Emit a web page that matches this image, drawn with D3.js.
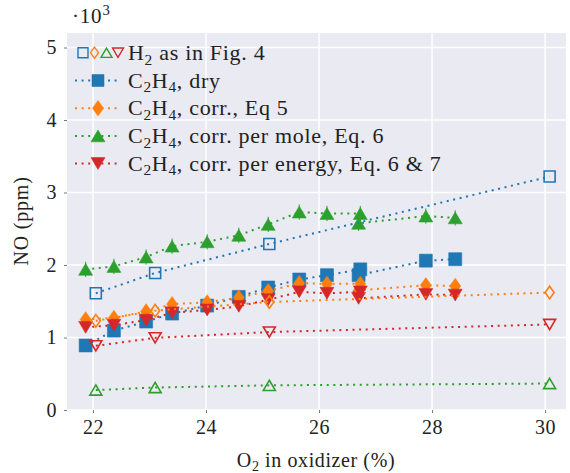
<!DOCTYPE html>
<html>
<head>
<meta charset="utf-8">
<title>NO vs O2</title>
<script src="https://cdn.jsdelivr.net/npm/d3@7"></script>
<style>
  body { margin: 0; background: #fff; }
  text { font-family: "Liberation Serif", "Times New Roman", serif; fill: #222; }
</style>
</head>
<body>
<div id="chart"></div>
<script>

// H2 reference points (open markers)
var xH2 = [22.05, 23.1, 25.12, 30.08];
var h2Dry = [1610, 1890, 2290, 3220];
var h2Corr = [1230, 1370, 1490, 1620];
var h2Mole = [275, 310, 340, 365];
var h2Energy = [885, 995, 1075, 1180];

// C2H4 points (filled markers)
var xC2H4 = [21.87, 22.37, 22.94, 23.40, 24.02, 24.58, 25.10, 25.65, 26.14, 26.73, 26.70, 27.89, 28.41];
var c2Dry = [890, 1095, 1220, 1330, 1440, 1560, 1690, 1800, 1860, 1940, 1860, 2060, 2080];
var c2Corr = [1250, 1270, 1360, 1460, 1485, 1550, 1640, 1750, 1740, 1740, 1650, 1720, 1710];
var c2Mole = [1940, 1980, 2110, 2260, 2320, 2410, 2560, 2730, 2710, 2710, 2575, 2675, 2650];
var c2Energy = [1140, 1170, 1240, 1340, 1380, 1430, 1520, 1630, 1610, 1630, 1540, 1595, 1585];

// error bars (ppm)
var errDry = [60, 60, 60, 60, 60, 60, 60, 60, 60, 60, 60, 60, 60];
var errCorr = [80, 80, 80, 80, 80, 80, 80, 80, 80, 80, 80, 80, 80];
var errMole = [105, 105, 105, 105, 105, 105, 105, 105, 105, 105, 105, 105, 105];
var errEnergy = [70, 70, 70, 70, 70, 70, 70, 70, 70, 70, 70, 70, 70];

var xTicks = [22, 24, 26, 28, 30];
var yTicks = [0, 1000, 2000, 3000, 4000, 5000];

var blue = "#1f77b4", orange = "#ff7f0e", green = "#2ca02c", red = "#d62728";

var W = 570, H = 473;
var pLeft = 67, pRight = 566, pTop = 33, pBottom = 410;

var svg = d3.select("#chart").append("svg")
    .attr("width", W).attr("height", H);

var x = d3.scaleLinear().domain([21.54, 30.37]).range([pLeft, pRight]);
var y = d3.scaleLinear().domain([0, 5200]).range([pBottom, pTop]);

// background
svg.append("rect")
    .attr("x", pLeft).attr("y", pTop)
    .attr("width", pRight - pLeft).attr("height", pBottom - pTop)
    .attr("fill", "#eaeaf2");

// grid
svg.append("g").selectAll("line").data(xTicks).enter().append("line")
    .attr("x1", function(d) { return x(d); }).attr("x2", function(d) { return x(d); })
    .attr("y1", pTop).attr("y2", pBottom)
    .attr("stroke", "#fff").attr("stroke-width", 1.5);
svg.append("g").selectAll("line").data(yTicks).enter().append("line")
    .attr("y1", function(d) { return y(d); }).attr("y2", function(d) { return y(d); })
    .attr("x1", pLeft).attr("x2", pRight)
    .attr("stroke", "#fff").attr("stroke-width", 1.5);

// axes
var xAxis = svg.append("g")
    .attr("transform", "translate(0," + pBottom + ")")
    .call(d3.axisBottom(x).tickValues(xTicks).tickSize(3).tickPadding(7).tickFormat(d3.format("d")));
var yAxis = svg.append("g")
    .attr("transform", "translate(" + pLeft + ",0)")
    .call(d3.axisLeft(y).tickValues(yTicks).tickSize(3).tickPadding(7).tickFormat(function(d) { return d / 1000; }));
[xAxis, yAxis].forEach(function(a) {
  a.select(".domain").remove();
  a.selectAll(".tick line").attr("stroke", "#555").attr("stroke-width", 0.8);
  a.selectAll(".tick text").attr("font-family", "Liberation Serif").attr("font-size", 20)
      .attr("letter-spacing", 0.5).attr("fill", "#222");
});

// marker paths
function markerPath(kind, s) {
  var h = s / 2;
  if (kind === "square") return "M" + (-h) + "," + (-h) + "h" + s + "v" + s + "h" + (-s) + "Z";
  if (kind === "diamond") return "M0," + (-h * 1.4) + "L" + h + ",0L0," + (h * 1.4) + "L" + (-h) + ",0Z";
  if (kind === "up") return "M0," + (-h * 0.85) + "L" + h + "," + (h * 0.85) + "L" + (-h) + "," + (h * 0.85) + "Z";
  if (kind === "down") return "M0," + (h * 0.85) + "L" + h + "," + (-h * 0.85) + "L" + (-h) + "," + (-h * 0.85) + "Z";
}

var line = d3.line()
    .x(function(d) { return x(d[0]); })
    .y(function(d) { return y(d[1]); });

function drawSeries(xs, ys, errs, color, kind, size, filled) {
  var pts = xs.map(function(v, i) { return [v, ys[i]]; });
  var g = svg.append("g");
  g.append("path").attr("d", line(pts))
      .attr("fill", "none").attr("stroke", color)
      .attr("stroke-width", 2).attr("stroke-dasharray", "2,4.6");
  if (errs) {
    g.selectAll(".err").data(pts).enter().append("line")
        .attr("x1", function(d) { return x(d[0]); }).attr("x2", function(d) { return x(d[0]); })
        .attr("y1", function(d, i) { return y(d[1] - errs[i]); })
        .attr("y2", function(d, i) { return y(d[1] + errs[i]); })
        .attr("stroke", color).attr("stroke-width", 1);
  }
  g.selectAll(".mk").data(pts).enter().append("path")
      .attr("transform", function(d) { return "translate(" + x(d[0]) + "," + y(d[1]) + ")"; })
      .attr("d", markerPath(kind, size))
      .attr("fill", filled ? color : "none")
      .attr("stroke", color)
      .attr("stroke-opacity", filled ? 0.55 : 1)
      .attr("stroke-width", filled ? 1 : 1.6);
}

drawSeries(xC2H4, c2Dry, errDry, blue, "square", 13, true);
drawSeries(xC2H4, c2Corr, errCorr, orange, "diamond", 11, true);
drawSeries(xC2H4, c2Mole, errMole, green, "up", 14, true);
drawSeries(xC2H4, c2Energy, errEnergy, red, "down", 14, true);

drawSeries(xH2, h2Dry, null, blue, "square", 11, false);
drawSeries(xH2, h2Corr, null, orange, "diamond", 9, false);
drawSeries(xH2, h2Mole, null, green, "up", 12, false);
drawSeries(xH2, h2Energy, null, red, "down", 12, false);

// text helper with sub/superscript
function richText(sel, parts, size) {
  parts.forEach(function(p) {
    var t = sel.append("tspan").text(p[0]);
    if (p[1] === "sub") t.attr("font-size", size * 0.7).attr("dy", size * 0.22);
    else if (p[1] === "sup") t.attr("font-size", size * 0.7).attr("dy", -size * 0.4);
    else if (p[1] === "back") t.attr("dy", -size * 0.22);
  });
}

// legend
var legFs = 22;
var rowY = [52.7, 80.5, 108.2, 135.9, 163.5];
var legLabels = [
  [["H"], ["2", "sub"], [" as in Fig. 4", "back"]],
  [["C"], ["2", "sub"], ["H", "back"], ["4", "sub"], [", dry", "back"]],
  [["C"], ["2", "sub"], ["H", "back"], ["4", "sub"], [", corr., Eq 5", "back"]],
  [["C"], ["2", "sub"], ["H", "back"], ["4", "sub"], [", corr. per mole, Eq. 6", "back"]],
  [["C"], ["2", "sub"], ["H", "back"], ["4", "sub"], [", corr. per energy, Eq. 6 & 7", "back"]]
];
var legColors = [null, blue, orange, green, red];
var legKinds = [null, "square", "diamond", "up", "down"];

var leg = svg.append("g");
// first row: four open markers
[["square", blue, 10, 83], ["diamond", orange, 8, 94.5], ["up", green, 11, 106.5], ["down", red, 11, 118]].forEach(function(m) {
  leg.append("path")
      .attr("transform", "translate(" + m[3] + "," + rowY[0] + ")")
      .attr("d", markerPath(m[0], m[2]))
      .attr("fill", "none").attr("stroke", m[1]).attr("stroke-width", 1.4);
});
for (var i = 1; i < 5; i++) {
  leg.append("line")
      .attr("x1", 75).attr("x2", 121).attr("y1", rowY[i]).attr("y2", rowY[i])
      .attr("stroke", legColors[i]).attr("stroke-width", 2).attr("stroke-dasharray", "2,4.6");
  leg.append("path")
      .attr("transform", "translate(98," + rowY[i] + ")")
      .attr("d", markerPath(legKinds[i], legKinds[i] === "diamond" ? 11 : (legKinds[i] === "square" ? 12 : 14)))
      .attr("fill", legColors[i]).attr("stroke", legColors[i]).attr("stroke-opacity", 0.55).attr("stroke-width", 1);
}
legLabels.forEach(function(parts, i) {
  var t = leg.append("text").attr("x", 128).attr("y", rowY[i] + 7)
      .attr("font-size", legFs).attr("letter-spacing", 0.7);
  richText(t, parts, legFs);
});

// axis labels
var xl = svg.append("text").attr("x", 316).attr("y", 467).attr("text-anchor", "middle")
    .attr("font-size", 20).attr("letter-spacing", 0.6);
richText(xl, [["O"], ["2", "sub"], [" in oxidizer (%)", "back"]], 20);

svg.append("text")
    .attr("transform", "translate(28,221) rotate(-90)")
    .attr("text-anchor", "middle").attr("font-size", 20).attr("letter-spacing", 0.8)
    .text("NO (ppm)");

var mult = svg.append("text").attr("x", 72).attr("y", 23).attr("font-size", 21).attr("letter-spacing", 0.8);
richText(mult, [["\u00b710"], ["3", "sup"]], 21);

</script>
</body>
</html>
